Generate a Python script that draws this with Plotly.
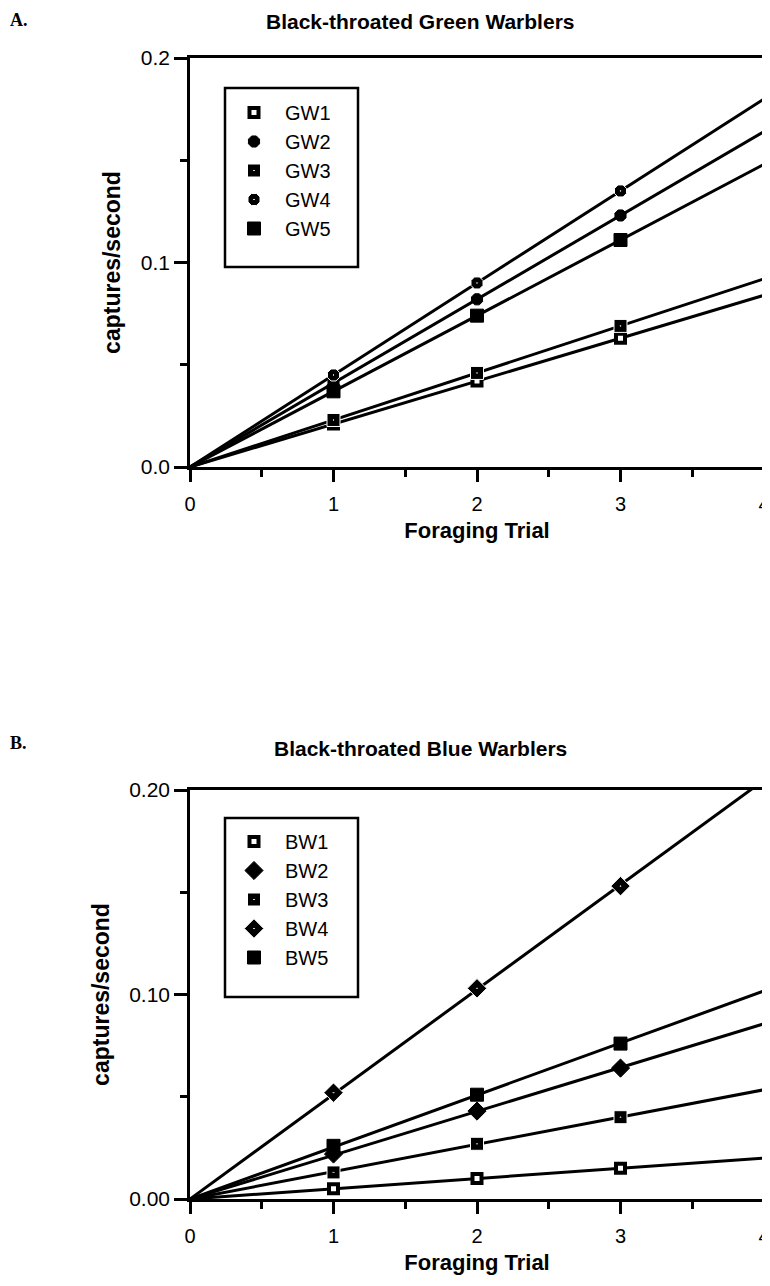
import plotly.graph_objects as go

trials = [1, 2, 3]
line_x = [0, 4]

gw_names = ["GW1", "GW2", "GW3", "GW4", "GW5"]
gw_values = [
    [0.021, 0.042, 0.063],
    [0.041, 0.082, 0.123],
    [0.023, 0.046, 0.069],
    [0.045, 0.090, 0.135],
    [0.037, 0.074, 0.111],
]
bw_names = ["BW1", "BW2", "BW3", "BW4", "BW5"]
bw_values = [
    [0.005, 0.010, 0.015],
    [0.022, 0.043, 0.064],
    [0.013, 0.027, 0.040],
    [0.052, 0.103, 0.153],
    [0.026, 0.051, 0.076],
]

gw_ticks = [0.0, 0.1, 0.2]
gw_ticktext = ["0.0", "0.1", "0.2"]
bw_ticks = [0.0, 0.1, 0.2]
bw_ticktext = ["0.00", "0.10", "0.20"]

# marker styles: (symbol, fill, line colour, line width, size)
styles_a = [
    ("square", "white", "black", 4, 9),
    ("octagon", "black", "black", 1, 12),
    ("square-dot", "black", "white", 1, 13),
    ("octagon-dot", "black", "white", 1, 13),
    ("square", "black", "black", 1, 13),
]
styles_b = [
    ("square", "white", "black", 4, 9),
    ("diamond", "black", "black", 1, 14),
    ("square-dot", "black", "white", 1, 13),
    ("diamond-dot", "black", "white", 1, 15),
    ("square", "black", "black", 1, 13),
]

FONT = "Liberation Sans, Arial, Helvetica, sans-serif"

fig = go.Figure()


def fit_slope(xs, ys):
    return sum(a * b for a, b in zip(xs, ys)) / sum(a * a for a in xs)


def add_panel(names, values, sty, xa, ya, legend):
    for n, v in zip(names, values):
        s = fit_slope(trials, v)
        fig.add_trace(go.Scatter(
            x=line_x, y=[s * x for x in line_x], mode="lines",
            line=dict(color="black", width=3), showlegend=False,
            xaxis=xa, yaxis=ya, hoverinfo="skip"))
    for i, (n, v) in enumerate(zip(names, values)):
        sym, fill, lc, lw, sz = sty[i]
        fig.add_trace(go.Scatter(
            x=trials, y=v, mode="markers", name=n,
            marker=dict(symbol=sym, color=fill, size=sz,
                        line=dict(color=lc, width=lw)),
            xaxis=xa, yaxis=ya, legend=legend))


add_panel(gw_names, gw_values, styles_a, "x", "y", "legend")
add_panel(bw_names, bw_values, styles_b, "x2", "y2", "legend2")

# the page has an 8px body margin; positions below are page pixels
W, H = 762, 1270
OFF = 8


def fx(p):
    return (p - OFF) / W


def fy(p):
    return 1 - (p - OFF) / H


xdom = [fx(190), fx(764)]
ydomA = [fy(467), fy(58)]
ydomB = [fy(1199), fy(790)]

xcommon = dict(
    range=[0, 4], tickvals=[0, 1, 2, 3, 4], ticks="outside", ticklen=12,
    tickwidth=2.5, tickcolor="black", showline=True, linecolor="black",
    linewidth=2.5, mirror=True, showgrid=False, zeroline=False,
    ticklabeloverflow="allow", ticklabelstandoff=5,
    tickfont=dict(family=FONT, size=20, color="black"),
    minor=dict(dtick=0.5, ticks="outside", ticklen=7, tickwidth=2.5,
               tickcolor="black", showgrid=False),
    title=dict(text="<b>Foraging Trial</b>", standoff=9,
               font=dict(family=FONT, size=22, color="black")),
)
ycommon = dict(
    range=[0, 0.2], ticks="outside", ticklen=13, tickwidth=2.5,
    tickcolor="black", showline=True, linecolor="black", linewidth=2.5,
    mirror=True, showgrid=False, zeroline=False,
    tickfont=dict(family=FONT, size=21, color="black"),
    minor=dict(dtick=0.05, ticks="outside", ticklen=7, tickwidth=2.5,
               tickcolor="black", showgrid=False),
    title=dict(text="<b>captures/second</b>", standoff=14,
               font=dict(family=FONT, size=23, color="black")),
)

legcommon = dict(
    borderwidth=0, bgcolor="rgba(0,0,0,0)",
    font=dict(family=FONT, size=20, color="black"),
    tracegroupgap=0, xanchor="left", yanchor="top", itemwidth=52,
)

fig.update_layout(
    width=W, height=H,
    margin=dict(l=0, r=0, t=0, b=0, autoexpand=False),
    paper_bgcolor="white", plot_bgcolor="white",
    xaxis=dict(xcommon, domain=xdom, anchor="y"),
    yaxis=dict(ycommon, domain=ydomA, anchor="x", tickvals=gw_ticks,
               ticktext=gw_ticktext),
    xaxis2=dict(xcommon, domain=xdom, anchor="y2"),
    yaxis2=dict(ycommon, domain=ydomB, anchor="x2", tickvals=bw_ticks,
                ticktext=bw_ticktext),
    legend=dict(legcommon, x=fx(223), y=fy(93)),
    legend2=dict(legcommon, x=fx(223), y=fy(822)),
    showlegend=True,
)

# legend frames
for (x0, y0, x1, y1) in [(225, 88, 358, 267), (225, 818, 358, 997)]:
    fig.add_shape(type="rect", xref="paper", yref="paper",
                  x0=fx(x0), x1=fx(x1), y0=fy(y1), y1=fy(y0),
                  line=dict(color="black", width=2.5), fillcolor="rgba(0,0,0,0)")

fig.add_annotation(text="<b>A.</b>", x=0, y=1, xref="paper",
                   yref="paper", xanchor="left", yanchor="top",
                   showarrow=False,
                   font=dict(family="Liberation Serif, serif", size=18, color="black"))
fig.add_annotation(text="<b>B.</b>", x=0, y=fy(743), xref="paper",
                   yref="paper", xanchor="left", yanchor="middle",
                   showarrow=False,
                   font=dict(family="Liberation Serif, serif", size=18, color="black"))
fig.add_annotation(text="<b>Black-throated Green Warblers</b>",
                   x=fx(420), y=1, xref="paper",
                   yref="paper", xanchor="center", yanchor="top",
                   showarrow=False,
                   font=dict(family=FONT, size=21, color="black"))
fig.add_annotation(text="<b>Black-throated Blue Warblers</b>",
                   x=fx(420), y=fy(748), xref="paper",
                   yref="paper", xanchor="center", yanchor="middle",
                   showarrow=False,
                   font=dict(family=FONT, size=21, color="black"))

fig.write_html("out.html")
